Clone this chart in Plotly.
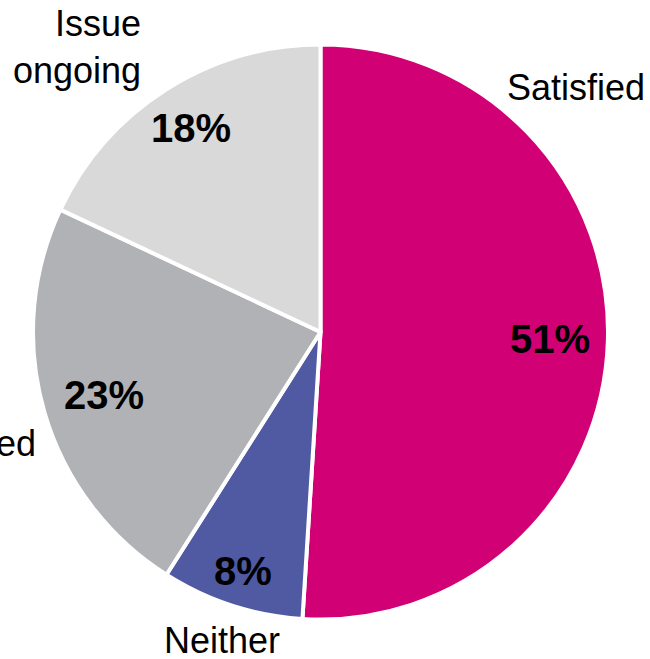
import math
import plotly.graph_objects as go

# Survey outcome shares (percent)
categories = ["Satisfied", "Neither", "Dissatisfied", "Issue ongoing"]
shares = [51, 8, 23, 18]
colors = ["#D10074", "#4F5AA3", "#B0B2B5", "#D9D9D9"]

W, H = 650, 659
# pie box in pixels (left, right, top, bottom)
PIE_L, PIE_R, PIE_T, PIE_B = 33, 608, 44, 620
CX, CY = (PIE_L + PIE_R) / 2, (PIE_T + PIE_B) / 2
RADIUS = min(PIE_R - PIE_L, PIE_B - PIE_T) / 2

fig = go.Figure(
    go.Pie(
        labels=categories,
        values=shares,
        sort=False,
        direction="clockwise",
        rotation=0,
        marker=dict(colors=colors, line=dict(color="white", width=4)),
        textinfo="none",
        domain=dict(x=[PIE_L / W, PIE_R / W], y=[1 - PIE_B / H, 1 - PIE_T / H]),
        showlegend=False,
        hoverinfo="label+percent",
    )
)

# Percent labels sit along each slice's mid-angle, fairly close to the rim
pct_font = dict(family="Liberation Sans, Arial, sans-serif", size=40, color="black", weight="bold")
radial_frac = [0.80, 0.875, 0.785, 0.84]
total = sum(shares)
cum = 0
for val, frac in zip(shares, radial_frac):
    mid = (cum + val / 2) / total * 2 * math.pi  # clockwise from 12 o'clock
    cum += val
    px = CX + frac * RADIUS * math.sin(mid)
    py = CY - frac * RADIUS * math.cos(mid)
    fig.add_annotation(
        x=px / W, y=1 - py / H, xref="paper", yref="paper",
        text=f"{val}%", showarrow=False, xanchor="center", yanchor="middle",
        font=pct_font,
    )

# Category names placed around the pie
label_font = dict(family="Liberation Sans, Arial, sans-serif", size=36, color="black")
label_spots = {
    "Satisfied": (505, 88, "left"),
    "Neither": (222, 640, "center"),
    "Dissatisfied": (38, 443, "right"),
    "Issue ongoing": (143, 47, "right"),
}
for name in categories:
    px, py, anchor = label_spots[name]
    text = name.replace(" ", "<br>") if name == "Issue ongoing" else name
    fig.add_annotation(
        x=px / W, y=1 - py / H, xref="paper", yref="paper",
        text=text, showarrow=False, xanchor=anchor, yanchor="middle",
        align=anchor,
        font=label_font,
    )

fig.update_layout(
    width=W, height=H,
    margin=dict(l=0, r=0, t=0, b=0),
    paper_bgcolor="white", plot_bgcolor="white",
)

fig.write_html("out.html")
